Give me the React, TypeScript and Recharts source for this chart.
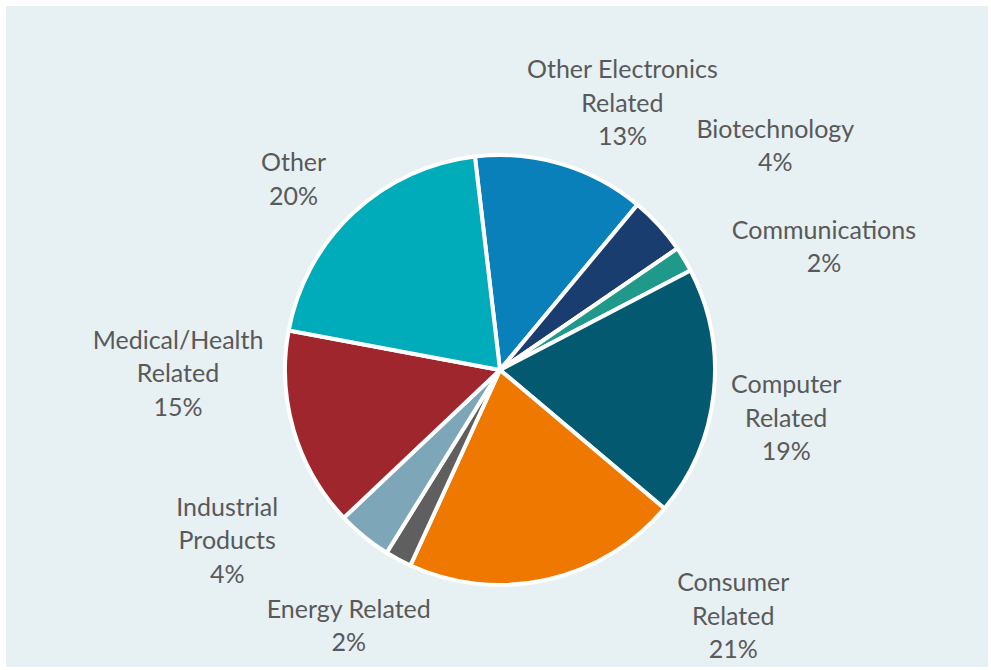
import { PieChart, Pie, Cell } from "recharts";

// slices clockwise from just left of 12 o'clock, share in percent
const categories = [
  "Other Electronics Related",
  "Biotechnology",
  "Communications",
  "Computer Related",
  "Consumer Related",
  "Energy Related",
  "Industrial Products",
  "Medical/Health Related",
  "Other",
];
const shares = [12.9, 4.4, 1.9, 18.8, 20.7, 2.0, 4.1, 15.0, 20.2];
const labelLines = [
  ["Other Electronics", "Related"],
  ["Biotechnology"],
  ["Communications"],
  ["Computer", "Related"],
  ["Consumer", "Related"],
  ["Energy Related"],
  ["Industrial", "Products"],
  ["Medical/Health", "Related"],
  ["Other"],
];

const colors = [
  "#0A80BB",
  "#1A3D6F",
  "#1F998A",
  "#035A70",
  "#EE7800",
  "#5F5F5F",
  "#7DA6B8",
  "#A0262E",
  "#00ACBA",
];

// best-fit label nudges: clockwise degrees off the slice middle, px beyond the rim
const labelNudge = [
  [8, 80],
  [3, 141],
  [10, 132],
  [3, 75],
  [-31, 123],
  [2.5, 81],
  [19, 106],
  [16, 107],
  [-4, 67],
];

const data = categories.map((name, i) => ({ name, value: shares[i] }));
const total = shares.reduce((a, b) => a + b, 0);

const FONT = "Lato, 'Open Sans', sans-serif";
const LINE_H = 33.5;

const renderLabel = (props: any) => {
  const { cx, cy, outerRadius, midAngle, index, value } = props;
  const [dAng, dR] = labelNudge[index];
  const ang = ((midAngle - dAng) * Math.PI) / 180;
  const r = outerRadius + dR;
  const x = cx + r * Math.cos(ang);
  const y = cy - r * Math.sin(ang);
  const lines = [...labelLines[index], `${Math.round((value / total) * 100)}%`];
  const top = y - ((lines.length - 1) * LINE_H) / 2;
  return (
    <text
      x={x}
      y={top}
      textAnchor="middle"
      dominantBaseline="central"
      fill="#595959"
      fontFamily={FONT}
      fontSize={25}
    >
      {lines.map((l, k) => (
        <tspan key={k} x={x} y={top + k * LINE_H}>
          {l}
        </tspan>
      ))}
    </text>
  );
};

export default function App() {
  return (
    <div
      style={{
        position: "absolute",
        left: 0,
        top: 0,
        width: 991,
        height: 670,
        background: "#ffffff",
      }}
    >
      <div
        style={{
          position: "absolute",
          left: 6,
          top: 6,
          width: 982,
          height: 661,
          background: "#E7F0F3",
        }}
      />
      <div style={{ position: "absolute", left: 0, top: 0 }}>
        <PieChart width={991} height={670} margin={{ top: 0, right: 0, bottom: 0, left: 0 }}>
          <Pie
            data={data}
            dataKey="value"
            nameKey="name"
            cx={500}
            cy={370}
            outerRadius={215}
            startAngle={96.7}
            endAngle={-263.3}
            stroke="#ffffff"
            strokeWidth={4}
            label={renderLabel}
            labelLine={false}
            isAnimationActive={false}
          >
            {data.map((d, i) => (
              <Cell key={d.name} fill={colors[i]} />
            ))}
          </Pie>
        </PieChart>
      </div>
    </div>
  );
}
